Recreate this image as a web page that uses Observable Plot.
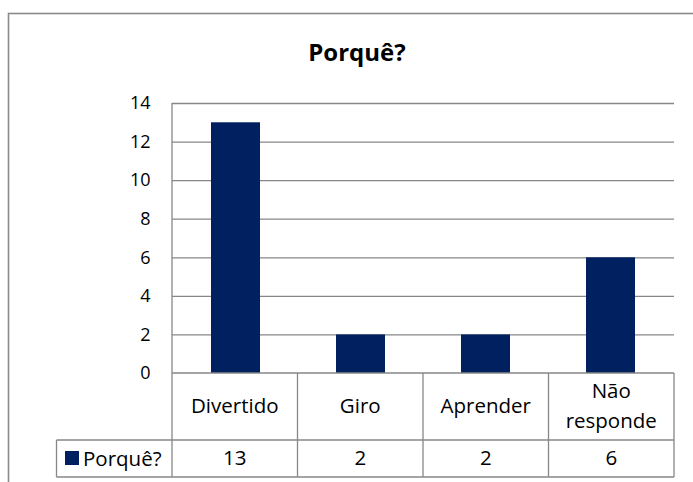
<!DOCTYPE html>
<html><head><meta charset="utf-8">
<script src="https://cdn.jsdelivr.net/npm/d3@7"></script>
<script src="https://cdn.jsdelivr.net/npm/@observablehq/plot@0.6"></script>
<style>html,body{margin:0;padding:0;background:#fff} svg{display:block}</style>
</head><body><div id="chart"></div>
<script>
const categories = ["Divertido", "Giro", "Aprender", "Não responde"];
const categoryLines = [["Divertido"], ["Giro"], ["Aprender"], ["Não", "responde"]];
const values = [13, 2, 2, 6];
const seriesName = "Porquê?";
const chartTitle = "Porquê?";
const yTicks = [0, 2, 4, 6, 8, 10, 12, 14];

const data = categories.map((c, i) => ({category: c, value: values[i]}));
const font = "'Open Sans', sans-serif";
const gridColor = "#878787";
const barColor = "#002060";

const plot = Plot.plot({
  width: 693, height: 482,
  marginLeft: 172, marginRight: 19, marginTop: 103, marginBottom: 109,
  style: {fontFamily: font, fontSize: "18px", color: "#000", background: "#fff", overflow: "visible"},
  x: {domain: categories, padding: 0, axis: null},
  y: {domain: [0, 14], axis: null},
  marks: [
    Plot.ruleY(yTicks.filter(d => d > 0), {stroke: gridColor, strokeWidth: 1.3}),
    Plot.barY(data, {x: "category", y: "value", fill: barColor, insetLeft: 38, insetRight: 38}),
    Plot.axisY({ticks: yTicks, tickSize: 0, tickPadding: 22, fontSize: 18, fill: "#000", label: null})
  ]
});

const svg = d3.select(plot);
const xs = plot.scale("x");
const ys = plot.scale("y");
const xb = d3.scaleBand().domain(xs.domain).range(xs.range).paddingInner(0).paddingOuter(0);
const yf = d3.scaleLinear().domain(ys.domain).range(ys.range);
const bw = xb.bandwidth();
const left = xs.range[0], right = xs.range[1];
const y0 = yf(0), yTop = yf(14);
const rowDiv = y0 + 67, tableBottom = y0 + 104;
const legendLeft = 56.5;

const g = svg.append("g").attr("stroke", gridColor).attr("stroke-width", 1.3).attr("fill", "none");
g.append("line").attr("x1", left).attr("x2", left).attr("y1", yTop).attr("y2", tableBottom);
g.append("line").attr("x1", left).attr("x2", right).attr("y1", y0).attr("y2", y0);
g.append("line").attr("x1", legendLeft).attr("x2", right).attr("y1", rowDiv).attr("y2", rowDiv);
g.append("line").attr("x1", legendLeft).attr("x2", right).attr("y1", tableBottom).attr("y2", tableBottom);
g.append("line").attr("x1", legendLeft).attr("x2", legendLeft).attr("y1", rowDiv).attr("y2", tableBottom);
categories.forEach(c => {
  const xe = xb(c) + bw;
  g.append("line").attr("x1", xe).attr("x2", xe).attr("y1", y0).attr("y2", tableBottom);
});

const t = svg.append("g").attr("font-family", font).attr("fill", "#000").attr("text-anchor", "middle");
categories.forEach((c, i) => {
  const cx = xb(c) + bw / 2;
  const lines = categoryLines[i];
  const base = lines.length === 1 ? [y0 + 40] : [y0 + 25, y0 + 55];
  lines.forEach((ln, j) => t.append("text").attr("x", cx).attr("y", base[j]).attr("font-size", 20.5).text(ln));
  t.append("text").attr("x", cx).attr("y", y0 + 92).attr("font-size", 20.5).text(values[i]);
});
svg.append("rect").attr("x", 65).attr("y", rowDiv + 11).attr("width", 14).attr("height", 14).attr("fill", barColor);
svg.append("text").attr("x", 83).attr("y", y0 + 93).attr("text-anchor", "start").attr("font-family", font)
  .attr("font-size", 20.5).attr("fill", "#000").text(seriesName);

svg.append("text").attr("x", 357).attr("y", 61).attr("text-anchor", "middle").attr("font-family", font)
  .attr("font-weight", "bold").attr("font-size", 24).attr("fill", "#000").text(chartTitle);

svg.append("rect").attr("x", 8.5).attr("y", 13.5).attr("width", 720).attr("height", 520)
  .attr("fill", "none").attr("stroke", "#8a8a8a").attr("stroke-width", 1.6);

document.getElementById("chart").appendChild(plot);
</script>
</body></html>
